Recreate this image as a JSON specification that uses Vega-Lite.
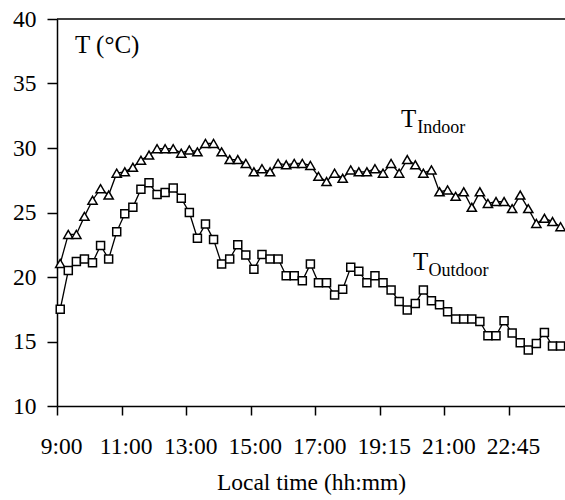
{
  "$schema": "https://vega.github.io/schema/vega-lite/v6.json",
  "autosize": "none",
  "width": 508,
  "height": 387,
  "padding": {"left": 57, "top": 19, "right": 0, "bottom": 94},
  "background": "white",
  "config": {"view": {"stroke": null}, "font": "Liberation Serif"},
  "datasets": {
    "temps": [
    {"i":0,"series":"Indoor","T":21.05},{"i":1,"series":"Indoor","T":23.3},{"i":2,"series":"Indoor","T":23.3},{"i":3,"series":"Indoor","T":24.7},{"i":4,"series":"Indoor","T":25.95},{"i":5,"series":"Indoor","T":26.85},{"i":6,"series":"Indoor","T":26.35},{"i":7,"series":"Indoor","T":28.05},{"i":8,"series":"Indoor","T":28.15},{"i":9,"series":"Indoor","T":28.5},
    {"i":10,"series":"Indoor","T":29.05},{"i":11,"series":"Indoor","T":29.45},{"i":12,"series":"Indoor","T":29.95},{"i":13,"series":"Indoor","T":29.95},{"i":14,"series":"Indoor","T":29.95},{"i":15,"series":"Indoor","T":29.6},{"i":16,"series":"Indoor","T":29.85},{"i":17,"series":"Indoor","T":29.7},{"i":18,"series":"Indoor","T":30.35},{"i":19,"series":"Indoor","T":30.35},
    {"i":20,"series":"Indoor","T":29.7},{"i":21,"series":"Indoor","T":29.1},{"i":22,"series":"Indoor","T":29.1},{"i":23,"series":"Indoor","T":28.8},{"i":24,"series":"Indoor","T":28.15},{"i":25,"series":"Indoor","T":28.4},{"i":26,"series":"Indoor","T":28.15},{"i":27,"series":"Indoor","T":28.8},{"i":28,"series":"Indoor","T":28.7},{"i":29,"series":"Indoor","T":28.8},
    {"i":30,"series":"Indoor","T":28.8},{"i":31,"series":"Indoor","T":28.65},{"i":32,"series":"Indoor","T":27.8},{"i":33,"series":"Indoor","T":27.4},{"i":34,"series":"Indoor","T":28.05},{"i":35,"series":"Indoor","T":27.65},{"i":36,"series":"Indoor","T":28.3},{"i":37,"series":"Indoor","T":28.15},{"i":38,"series":"Indoor","T":28.15},{"i":39,"series":"Indoor","T":28.4},
    {"i":40,"series":"Indoor","T":28.05},{"i":41,"series":"Indoor","T":28.8},{"i":42,"series":"Indoor","T":28.05},{"i":43,"series":"Indoor","T":29.1},{"i":44,"series":"Indoor","T":28.7},{"i":45,"series":"Indoor","T":28.05},{"i":46,"series":"Indoor","T":28.3},{"i":47,"series":"Indoor","T":26.6},{"i":48,"series":"Indoor","T":26.75},{"i":49,"series":"Indoor","T":26.25},
    {"i":50,"series":"Indoor","T":26.6},{"i":51,"series":"Indoor","T":25.4},{"i":52,"series":"Indoor","T":26.6},{"i":53,"series":"Indoor","T":25.7},{"i":54,"series":"Indoor","T":25.85},{"i":55,"series":"Indoor","T":25.85},{"i":56,"series":"Indoor","T":25.3},{"i":57,"series":"Indoor","T":26.35},{"i":58,"series":"Indoor","T":25.3},{"i":59,"series":"Indoor","T":24.15},
    {"i":60,"series":"Indoor","T":24.55},{"i":61,"series":"Indoor","T":24.3},{"i":62,"series":"Indoor","T":23.9},
    {"i":0,"series":"Outdoor","T":17.5},{"i":1,"series":"Outdoor","T":20.5},{"i":2,"series":"Outdoor","T":21.2},{"i":3,"series":"Outdoor","T":21.4},{"i":4,"series":"Outdoor","T":21.1},{"i":5,"series":"Outdoor","T":22.45},{"i":6,"series":"Outdoor","T":21.4},{"i":7,"series":"Outdoor","T":23.5},{"i":8,"series":"Outdoor","T":24.9},{"i":9,"series":"Outdoor","T":25.4},
    {"i":10,"series":"Outdoor","T":26.8},{"i":11,"series":"Outdoor","T":27.3},{"i":12,"series":"Outdoor","T":26.4},{"i":13,"series":"Outdoor","T":26.55},{"i":14,"series":"Outdoor","T":26.9},{"i":15,"series":"Outdoor","T":26.1},{"i":16,"series":"Outdoor","T":25.0},{"i":17,"series":"Outdoor","T":23.0},{"i":18,"series":"Outdoor","T":24.1},{"i":19,"series":"Outdoor","T":22.9},
    {"i":20,"series":"Outdoor","T":21.0},{"i":21,"series":"Outdoor","T":21.4},{"i":22,"series":"Outdoor","T":22.5},{"i":23,"series":"Outdoor","T":21.7},{"i":24,"series":"Outdoor","T":20.6},{"i":25,"series":"Outdoor","T":21.75},{"i":26,"series":"Outdoor","T":21.4},{"i":27,"series":"Outdoor","T":21.4},{"i":28,"series":"Outdoor","T":20.1},{"i":29,"series":"Outdoor","T":20.1},
    {"i":30,"series":"Outdoor","T":19.7},{"i":31,"series":"Outdoor","T":21.0},{"i":32,"series":"Outdoor","T":19.55},{"i":33,"series":"Outdoor","T":19.55},{"i":34,"series":"Outdoor","T":18.6},{"i":35,"series":"Outdoor","T":19.05},{"i":36,"series":"Outdoor","T":20.75},{"i":37,"series":"Outdoor","T":20.45},{"i":38,"series":"Outdoor","T":19.55},{"i":39,"series":"Outdoor","T":20.1},
    {"i":40,"series":"Outdoor","T":19.55},{"i":41,"series":"Outdoor","T":19.0},{"i":42,"series":"Outdoor","T":18.1},{"i":43,"series":"Outdoor","T":17.45},{"i":44,"series":"Outdoor","T":17.95},{"i":45,"series":"Outdoor","T":19.0},{"i":46,"series":"Outdoor","T":18.15},{"i":47,"series":"Outdoor","T":17.85},{"i":48,"series":"Outdoor","T":17.3},{"i":49,"series":"Outdoor","T":16.75},
    {"i":50,"series":"Outdoor","T":16.75},{"i":51,"series":"Outdoor","T":16.75},{"i":52,"series":"Outdoor","T":16.55},{"i":53,"series":"Outdoor","T":15.45},{"i":54,"series":"Outdoor","T":15.45},{"i":55,"series":"Outdoor","T":16.6},{"i":56,"series":"Outdoor","T":15.65},{"i":57,"series":"Outdoor","T":14.9},{"i":58,"series":"Outdoor","T":14.35},{"i":59,"series":"Outdoor","T":14.85},
    {"i":60,"series":"Outdoor","T":15.7},{"i":61,"series":"Outdoor","T":14.65},{"i":62,"series":"Outdoor","T":14.65}
    ]
  },
  "layer": [
    {
      "data": {"name": "temps"},
      "mark": {"type": "line", "color": "black", "strokeWidth": 1.3},
      "encoding": {
        "x": {
          "field": "i", "type": "quantitative",
          "scale": {"domain": [-0.4, 62.55], "nice": false, "zero": false},
          "axis": {
            "values": [0,4,8,12,16,20,24,28,32,36,40,44,48,52,56,60],
            "labelExpr": "['9:00','','11:00','','13:00','','15:00','','17:00','','19:15','','21:00','','22:45',''][round(datum.value/4)]",
            "tickOffset": -3.2, "labelOffset": 4,
            "tickSize": 9, "tickWidth": 1.5, "tickColor": "black",
            "domainColor": "black", "domainWidth": 1.5,
            "labelFont": "Liberation Serif", "labelFontSize": 23.5, "labelColor": "black",
            "labelPadding": 19, "labelOverlap": false, "labelFlush": false,
            "grid": false,
            "title": "Local time (hh:mm)",
            "titleFont": "Liberation Serif", "titleFontSize": 23.5, "titleFontWeight": "normal", "titleColor": "black",
            "titlePadding": 13
          }
        },
        "y": {
          "field": "T", "type": "quantitative",
          "scale": {"domain": [10, 40], "nice": false, "zero": false},
          "axis": {
            "values": [10,15,20,25,30,35,40],
            "tickSize": 10, "tickWidth": 1.5, "tickColor": "black",
            "domainColor": "black", "domainWidth": 1.5,
            "labelFont": "Liberation Serif", "labelFontSize": 23.5, "labelColor": "black",
            "labelPadding": 11, "grid": false, "title": null
          }
        },
        "detail": {"field": "series"}
      }
    },
    {
      "data": {"name": "temps"},
      "transform": [{"filter": "datum.series == 'Indoor'"}],
      "mark": {"type": "point", "shape": "triangle-up", "size": 85, "filled": true, "fill": "white", "stroke": "black", "strokeWidth": 1.5, "opacity": 1},
      "encoding": {"x": {"field": "i", "type": "quantitative"}, "y": {"field": "T", "type": "quantitative"}}
    },
    {
      "data": {"name": "temps"},
      "transform": [{"filter": "datum.series == 'Outdoor'"}],
      "mark": {"type": "point", "shape": "square", "size": 64, "filled": true, "fill": "white", "stroke": "black", "strokeWidth": 1.5, "opacity": 1},
      "encoding": {"x": {"field": "i", "type": "quantitative"}, "y": {"field": "T", "type": "quantitative"}}
    },
    {
      "data": {"values": [{"top": 40}]},
      "mark": {"type": "rule", "color": "black", "strokeWidth": 1.5},
      "encoding": {"y": {"field": "top", "type": "quantitative"}}
    },
    {
      "data": {"values": [{"label": "T (°C)", "px": 1.83, "py": 37.36}]},
      "mark": {"type": "text", "font": "Liberation Serif", "fontSize": 25, "align": "left", "baseline": "alphabetic", "color": "black"},
      "encoding": {"x": {"field": "px", "type": "quantitative"}, "y": {"field": "py", "type": "quantitative"}, "text": {"field": "label"}}
    },
    {
      "data": {"values": [{"label": "T", "px": 42.23, "py": 31.63}, {"label": "T", "px": 43.71, "py": 20.54}]},
      "mark": {"type": "text", "font": "Liberation Serif", "fontSize": 25, "align": "left", "baseline": "alphabetic", "color": "black"},
      "encoding": {"x": {"field": "px", "type": "quantitative"}, "y": {"field": "py", "type": "quantitative"}, "text": {"field": "label"}}
    },
    {
      "data": {"values": [{"label": "Indoor", "px": 44.25, "py": 31.16}, {"label": "Outdoor", "px": 45.65, "py": 20.08}]},
      "mark": {"type": "text", "font": "Liberation Serif", "fontSize": 18, "align": "left", "baseline": "alphabetic", "color": "black"},
      "encoding": {"x": {"field": "px", "type": "quantitative"}, "y": {"field": "py", "type": "quantitative"}, "text": {"field": "label"}}
    }
  ]
}
